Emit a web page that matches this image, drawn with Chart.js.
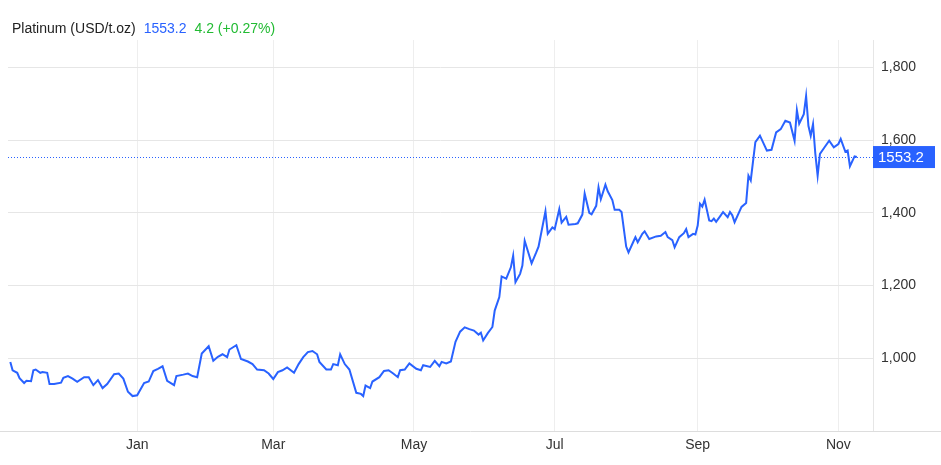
<!DOCTYPE html>
<html><head><meta charset="utf-8">
<script src="https://cdn.jsdelivr.net/npm/chart.js@4"></script>
<style>html,body{margin:0;padding:0;background:#fff}#w{width:941px;height:465px}</style>
</head><body><div id="w"><canvas id="c"></canvas></div>
<script>
// day offsets relative to Jan 1
const days = [-55,-54,-52,-51,-49,-48,-46,-45,-44,-42,-41,-39,-38,-36,-33,-32,-30,-28,-26,-23,-21,-19,-17,-15,-13,-10,-8,-6,-4,-2,0,3,5,7,9,11,13,16,17,20,22,24,26,28,31,33,35,37,39,40,43,45,48,50,52,55,57,59,61,63,65,68,70,72,74,76,78,79,82,84,85,87,88,90,92,95,97,98,99,101,102,105,107,109,111,113,114,116,118,121,123,124,127,129,131,132,134,136,138,140,142,144,146,148,149,150,152,154,155,157,158,160,162,163,164,166,167,168,171,173,174,177,178,180,181,183,184,186,187,190,191,193,194,196,197,199,200,201,203,204,206,207,209,210,212,213,215,216,217,219,220,222,225,227,229,230,232,233,235,237,238,239,241,242,243,244,245,246,248,249,250,251,253,254,256,257,258,259,262,264,265,266,268,270,273,275,277,279,281,283,285,286,287,289,290,291,292,293,294,295,296,298,300,302,304,305,307,308,309,311,312];
const prices = [990,967,960,945,932,938,937,967,969,960,962,960,929,929,933,946,951,944,935,948,948,926,940,918,929,956,958,944,908,896,898,932,936,965,971,978,938,926,951,955,958,951,948,1013,1033,993,1004,1011,1003,1024,1036,998,991,984,969,967,958,943,962,967,975,960,984,1003,1017,1020,1011,990,969,969,984,981,1011,984,969,905,902,896,925,918,936,948,965,967,958,948,967,969,986,971,967,981,976,993,978,990,986,991,1045,1073,1085,1080,1076,1065,1070,1049,1069,1086,1131,1168,1225,1219,1250,1282,1209,1232,1255,1323,1261,1291,1307,1404,1342,1360,1355,1410,1373,1389,1367,1369,1371,1395,1453,1400,1396,1419,1470,1437,1477,1459,1435,1408,1408,1402,1307,1291,1319,1333,1319,1342,1349,1328,1335,1337,1347,1333,1325,1305,1333,1344,1355,1333,1342,1340,1365,1425,1417,1436,1379,1377,1384,1375,1393,1402,1388,1402,1393,1374,1416,1427,1502,1489,1594,1612,1571,1573,1621,1630,1653,1648,1598,1682,1645,1671,1721,1639,1612,1644,1562,1502,1562,1580,1598,1580,1589,1603,1568,1571,1528,1555,1553.2];
const monthTicks = [0,59,120,181,243,304];
const monthLabels = ['Jan','Mar','May','Jul','Sep','Nov'];
const yTicks = [1000,1200,1400,1600,1800];
const lastPrice = 1553.2;
const titleName = 'Platinum (USD/t.oz)';
const titlePrice = '1553.2';
const titleChange = '4.2 (+0.27%)';

const FONT = '"Liberation Sans", Arial, sans-serif';
const BLUE = '#2962ff';

const overlay = {
  id:'overlay',
  afterDatasetsDraw(ch){
    const {ctx, chartArea:a, scales:{y}} = ch;
    const py = y.getPixelForValue(lastPrice);
    ctx.save();
    ctx.strokeStyle = BLUE; ctx.lineWidth = 1; ctx.setLineDash([1,2]);
    ctx.beginPath(); ctx.moveTo(a.left, Math.round(py)+0.5); ctx.lineTo(a.right, Math.round(py)+0.5); ctx.stroke();
    ctx.setLineDash([]);
    ctx.fillStyle = BLUE; ctx.fillRect(a.right, py-11, 62, 22);
    ctx.fillStyle = '#fff'; ctx.font = '15px '+FONT; ctx.textBaseline='middle'; ctx.textAlign='left';
    ctx.fillText(lastPrice.toFixed(1), a.right+5, py+1);
    // title
    ctx.font = '14px '+FONT; ctx.textBaseline='middle';
    let x = 12; const ty = 29;
    ctx.fillStyle = '#222'; ctx.fillText(titleName, x, ty); x += ctx.measureText(titleName).width + 8;
    ctx.fillStyle = BLUE; ctx.fillText(titlePrice, x, ty); x += ctx.measureText(titlePrice).width + 8;
    ctx.fillStyle = '#22bb33'; ctx.fillText(titleChange, x, ty);
    // bottom axis line
    ctx.strokeStyle = '#ddd'; ctx.beginPath(); ctx.moveTo(0, a.bottom+0.5); ctx.lineTo(941, a.bottom+0.5); ctx.stroke();
    ctx.restore();
  }
};

new Chart(document.getElementById('c'), {
  type:'line',
  data:{datasets:[{data: days.map((d,i)=>({x:d,y:prices[i]})), borderColor:BLUE, borderWidth:2, pointRadius:0, tension:0}]},
  options:{
    responsive:true, maintainAspectRatio:false, animation:false,
    layout:{padding:{left:8,top:40,right:0,bottom:0}},
    plugins:{legend:{display:false}, tooltip:{enabled:false}},
    scales:{
      x:{type:'linear', min:-56, max:319,
        afterBuildTicks(s){ s.ticks = monthTicks.map(v=>({value:v})); },
        afterFit(s){ s.height = 34; },
        ticks:{callback:(v)=>monthLabels[monthTicks.indexOf(v)], color:'#333', font:{family:FONT,size:14}, maxRotation:0, autoSkip:false, padding:6},
        grid:{color:'#eeeeee', drawTicks:false}, border:{display:false}},
      y:{position:'right', min:800, max:1875,
        afterBuildTicks(s){ s.ticks = yTicks.map(v=>({value:v})); },
        afterFit(s){ s.width = 68; },
        ticks:{color:'#333', font:{family:FONT,size:14}, padding:8},
        grid:{color:'#e6e6e6', drawTicks:false}, border:{display:true,color:'#e6e6e6'}}
    }
  },
  plugins:[overlay]
});
</script></body></html>
